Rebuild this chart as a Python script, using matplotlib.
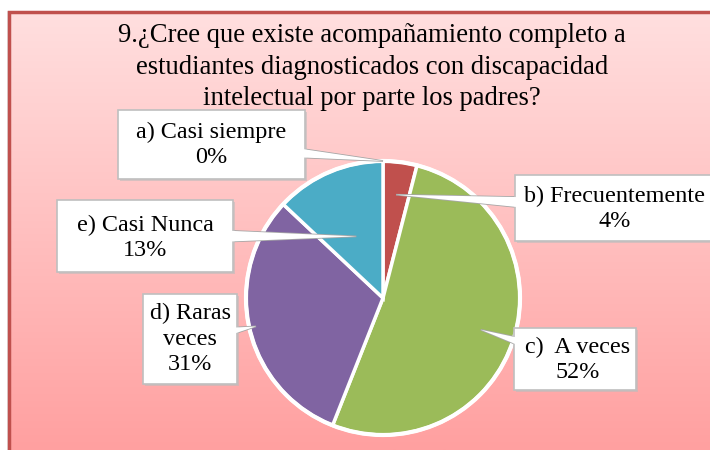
import numpy as np
import matplotlib
matplotlib.use("Agg")
import matplotlib.pyplot as plt
from matplotlib.patches import Rectangle, Polygon

plt.rcParams["font.family"] = ["Liberation Serif", "DejaVu Serif"]

# data
categories = ["a) Casi siempre", "b) Frecuentemente", "c)  A veces",
              "d) Raras\nveces", "e) Casi Nunca"]
percents = [0, 4, 52, 31, 13]
colors = ["#c0504d", "#c0504d", "#9bbb59", "#8064a2", "#4bacc6"]
title = ("9.¿Cree que existe acompañamiento completo a\n"
         "estudiantes diagnosticados con discapacidad\n"
         "intelectual por parte los padres?")

W, H = 710, 450
fig = plt.figure(figsize=(W / 100, H / 100), dpi=100)
fig.patch.set_facecolor("white")
ax = fig.add_axes([0, 0, 1, 1])


def py(y):
    # pixel row (top origin) -> data y
    return H - y


# chart area: pink vertical gradient with red border on top/left
top_c = np.array([255, 223, 223]) / 255
bot_c = np.array([255, 160, 160]) / 255
t = np.linspace(0, 1, 256)[:, None]
grad = (top_c * (1 - t) + bot_c * t)[:, None, :]
ax.imshow(grad, extent=(9, W + 2, 0, py(12)), aspect="auto", zorder=0)
ax.plot([7.5, 7.5], [0, py(12)], color="#e0e0e0", lw=2, zorder=1)
ax.plot([9, 9, W + 2], [0, py(12), py(12)], color="#c0504d", lw=2.5,
        solid_joinstyle="miter", zorder=1)

ax.text(372, py(67), title, ha="center", va="center", fontsize=19.2,
        linespacing=1.36, color="black", zorder=5)

# pie
cx, cy, R = 383, py(298), 137
wedges, _ = ax.pie(percents, colors=colors, startangle=90, counterclock=False,
                   center=(cx, cy), radius=R, frame=True,
                   wedgeprops=dict(edgecolor="white", linewidth=2.5))
ax.add_patch(plt.Circle((cx, cy), R, fill=False, ec="white", lw=3, zorder=3))

# callout boxes (x, y, w, h in pixels), text centers and pointer radii
boxes = [(118, 110, 187, 69), (515, 175, 200, 66), (514, 328, 122, 62),
         (143, 294, 94, 90), (57, 200, 176, 72)]
text_pos = [(211, 145), (615, 209), (578, 360), (190, 339), (145, 238)]
tip_r = [1.0, 0.76, 0.75, 0.95, 0.49]

cum = 0
for lab, p, box, tp, rf in zip(categories, percents, boxes, text_pos, tip_r):
    mid = np.deg2rad(90 - (cum + p / 2) * 3.6)
    cum += p
    tx = cx + rf * R * np.cos(mid)
    ty = cy + rf * R * np.sin(mid)
    bx, by, bw, bh = box
    bcx, bcy = bx + bw / 2, py(by + bh / 2)
    d = np.array([tx - bcx, ty - bcy])
    n = np.array([-d[1], d[0]]) / np.hypot(*d) * 9
    ax.add_patch(Polygon([(bcx + n[0], bcy + n[1]), (tx, ty),
                          (bcx - n[0], bcy - n[1])], closed=True,
                         fc="white", ec="#a6a6a6", lw=1.2, zorder=6))
    ax.add_patch(Rectangle((bx + 2, py(by + bh) - 2), bw, bh, fc="#bdbdbd",
                           ec="none", alpha=0.6, zorder=6))
    ax.add_patch(Rectangle((bx, py(by + bh)), bw, bh, fc="white",
                           ec="#bfbfbf", lw=1.2, zorder=7))
    ax.add_patch(Polygon([(bcx + n[0], bcy + n[1]), (tx, ty),
                          (bcx - n[0], bcy - n[1])], closed=True,
                         fc="white", ec="none", zorder=7.5))
    ax.text(tp[0], py(tp[1]), f"{lab}\n{p}%", ha="center", va="center",
            fontsize=17.4, linespacing=1.3, zorder=8)

ax.set_xlim(0, W)
ax.set_ylim(0, H)
ax.axis("off")

fig.savefig("out.png", dpi=100)
